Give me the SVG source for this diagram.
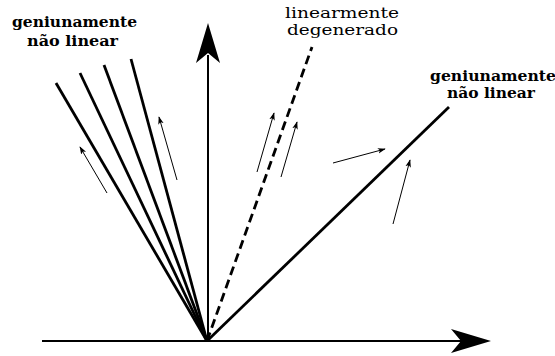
<svg xmlns="http://www.w3.org/2000/svg" width="555" height="356" viewBox="0 0 555 356">
<style>
.lbl{font-family:"DejaVu Serif","Liberation Serif",serif;font-size:15px;fill:#000}
.m{font-size:14px}
.b{font-weight:bold}
.thick{stroke:#000;stroke-width:2.8;fill:none;stroke-linecap:butt}
.axis{stroke:#000;stroke-width:2;fill:none}
.small{stroke:#000;stroke-width:1;fill:none;marker-end:url(#sm)}
</style>
<defs>
<marker id="sm" viewBox="0 0 10 10" refX="9" refY="5" markerWidth="8" markerHeight="8" markerUnits="userSpaceOnUse" orient="auto">
<path d="M0,1.5 L10,5 L0,8.5 L2.5,5 Z" fill="#000"/>
</marker>
</defs>
<rect width="555" height="356" fill="#fff"/>
<g id="axes">
<line class="axis" x1="42" y1="341" x2="465" y2="341"/>
<path d="M491,341 L451,329 L461,341 L451,353 Z" fill="#000"/>
<line class="axis" x1="208" y1="341" x2="208" y2="55"/>
<path d="M208,23 L220,63 L208,53 L196,63 Z" fill="#000"/>
</g>
<g id="connectors">
<line class="thick" x1="207" y1="341" x2="56" y2="83"/>
<line class="thick" x1="207" y1="341" x2="80" y2="73"/>
<line class="thick" x1="207" y1="341" x2="104" y2="65"/>
<line class="thick" x1="207" y1="341" x2="131" y2="59"/>
<line class="thick" x1="207" y1="341" x2="312" y2="47" stroke-dasharray="9,5"/>
<line class="thick" x1="207" y1="341" x2="449" y2="107"/>
<line class="small" x1="107" y1="193" x2="80" y2="147"/>
<line class="small" x1="177" y1="180" x2="159" y2="117"/>
<line class="small" x1="257" y1="172" x2="274" y2="113"/>
<line class="small" x1="281" y1="177" x2="297" y2="122"/>
<line class="small" x1="333" y1="163" x2="385" y2="149"/>
<line class="small" x1="393" y1="224" x2="410" y2="160"/>
</g>
<g id="label-left">
<text class="lbl b" x="12" y="27" textLength="125" lengthAdjust="spacingAndGlyphs">geniunamente</text>
<text class="lbl b" x="27" y="46" textLength="91" lengthAdjust="spacingAndGlyphs">não linear</text>
</g>
<g id="label-middle">
<text class="lbl m" x="285" y="18" textLength="114" lengthAdjust="spacingAndGlyphs">linearmente</text>
<text class="lbl m" x="287" y="35" textLength="111" lengthAdjust="spacingAndGlyphs">degenerado</text>
</g>
<g id="label-right">
<text class="lbl b" x="430" y="81" textLength="126" lengthAdjust="spacingAndGlyphs">geniunamente</text>
<text class="lbl b" x="447" y="98" textLength="88" lengthAdjust="spacingAndGlyphs">não linear</text>
</g>
</svg>
